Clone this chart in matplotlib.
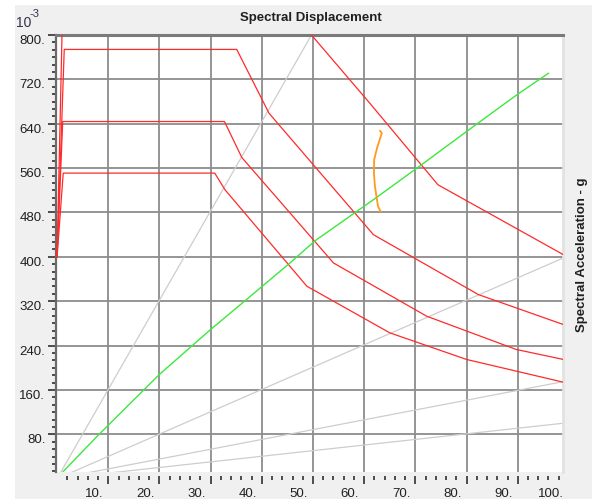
import numpy as np
import matplotlib
matplotlib.use("Agg")
import matplotlib.pyplot as plt
from matplotlib.patches import Rectangle
from matplotlib.ticker import MultipleLocator, FixedLocator
from matplotlib.transforms import ScaledTranslation, blended_transform_factory

plt.rcParams['font.family'] = ['Liberation Sans', 'DejaVu Sans']

# demand spectra (Sd in mm, Sa in 10^-3 g)
spec_top_x = [0, 1.4, 35.1, 41.4, 61.8, 82.3, 98.9]
spec_top_y = [400, 774, 774, 659, 440, 332, 278]
spec_mid_x = [0, 1.1, 32.7, 36.1, 54.0, 72.2, 89.7, 98.9]
spec_mid_y = [400, 644, 644, 579, 389, 293, 233, 215]
spec_low_x = [0, 1.2, 30.8, 32.8, 48.8, 65.0, 80.0, 98.9]
spec_low_y = [400, 551, 551, 521, 347, 263, 215, 174]
# largest spectrum runs off the top of the chart
spec_max_x = [0, 0.96, np.nan, 49.7, 61.1, 74.4, 98.9]
spec_max_y = [400, 800, np.nan, 800, 677, 530, 404]

# capacity curve
cap_x = [1.2, 8.2, 20, 30, 37, 45.5, 50.4, 61.8, 71.2, 80, 89.8, 96]
cap_y = [13, 80, 188, 269, 323, 389, 429, 503, 566, 626, 692, 731]

# constant period rays from the origin
ray_end_x = [49.7, 98.9, 98.9, 98.9]
ray_end_y = [800, 398, 175, 100]

# hand marked performance point
mark_x = [63.1, 63.45, 63.3, 62.5, 61.95, 61.9, 62.1, 62.4, 62.7, 63.2]
mark_y = [627, 623, 619, 596, 575, 551, 527, 509, 491, 482]

x_major = [10, 20, 30, 40, 50, 60, 70, 80, 90]
x_labels = [10, 20, 30, 40, 50, 60, 70, 80, 90, 100]
y_major = [80, 160, 240, 320, 400, 480, 560, 640, 720, 800]

W, H = 595, 499
fig = plt.figure(figsize=(W / 100, H / 100), dpi=100, facecolor='white')
fig.patches.append(Rectangle((15 / W, 0), (592 - 15) / W, 1 - 5 / H,
                             transform=fig.transFigure, facecolor='#f0f0f0',
                             edgecolor='none', zorder=-10))

ax = fig.add_axes([55.7 / W, 1 - 471.7 / H, (563.3 - 55.7) / W, (471.7 - 35) / H])
ax.set_facecolor('white')
ax.set_xlim(-0.27, 98.9)
ax.set_ylim(12.6, 800)

ax.set_xticks(x_major)
ax.xaxis.set_minor_locator(FixedLocator(np.arange(2, 99, 2)))
ax.set_yticks(y_major)
ax.yaxis.set_minor_locator(FixedLocator(np.arange(0, 801, 80 / 6)))
ax.grid(True, which='major', color='#8c8c8c', lw=1.3)
ax.set_axisbelow(True)

ax.tick_params(axis='both', which='both', direction='out', color='#202020', width=1.1)
ax.tick_params(axis='both', which='major', length=6)
ax.tick_params(axis='both', which='minor', length=3)
ax.tick_params(axis='y', labelsize=9.5, labelcolor='#202020', pad=1.5)
ax.set_yticklabels(['%d.' % v for v in y_major], va='top')
ax.set_xticklabels([])

# x labels sit just left of their tick
tr = blended_transform_factory(ax.transData, ax.transAxes) + \
    ScaledTranslation(-5 / 100, 0, fig.dpi_scale_trans)
for v in x_labels:
    ax.text(v, -0.038, '%d.' % v, transform=tr, ha='right', va='top',
            fontsize=9.5, color='#202020', clip_on=False)

for side in ['top', 'left', 'right', 'bottom']:
    ax.spines[side].set_visible(True)
ax.spines['top'].set_color('#7a7a7a')
ax.spines['top'].set_linewidth(2.2)
ax.spines['left'].set_color('#6a6a6a')
ax.spines['left'].set_linewidth(1.6)
ax.spines['right'].set_color('#e2e2e2')
ax.spines['right'].set_linewidth(2)
ax.spines['bottom'].set_position(('outward', 3))
ax.spines['bottom'].set_visible(False)

for ex, ey in zip(ray_end_x, ray_end_y):
    ax.plot([0, ex], [0, ey], color='#cdcdcd', lw=0.9, zorder=2)

for xs, ys in [(spec_top_x, spec_top_y), (spec_mid_x, spec_mid_y),
               (spec_low_x, spec_low_y), (spec_max_x, spec_max_y)]:
    ax.plot(xs, ys, color='#ff2a2a', lw=0.9, zorder=3)

ax.plot(cap_x, cap_y, color='#3ce83c', lw=1.0, zorder=4)
ax.plot(mark_x, mark_y, color='#ff9a1a', lw=1.3, zorder=5)

fig.text(311 / W, 1 - 17.5 / H, 'Spectral Displacement', ha='center', va='center',
         fontsize=9.5, fontweight='bold', color='#202020')
fig.text(582 / W, 1 - 255 / H, 'Spectral Acceleration - g', ha='center', va='center',
         rotation=90, fontsize=9.5, fontweight='bold', color='#202020')
fig.text(16 / W, 1 - 27 / H, '10', ha='left', va='baseline', fontsize=10, color='#33334a')
fig.text(29 / W, 1 - 17 / H, '-3', ha='left', va='baseline', fontsize=8, color='#33334a')

fig.savefig('out.png', dpi=100, facecolor=fig.get_facecolor())
